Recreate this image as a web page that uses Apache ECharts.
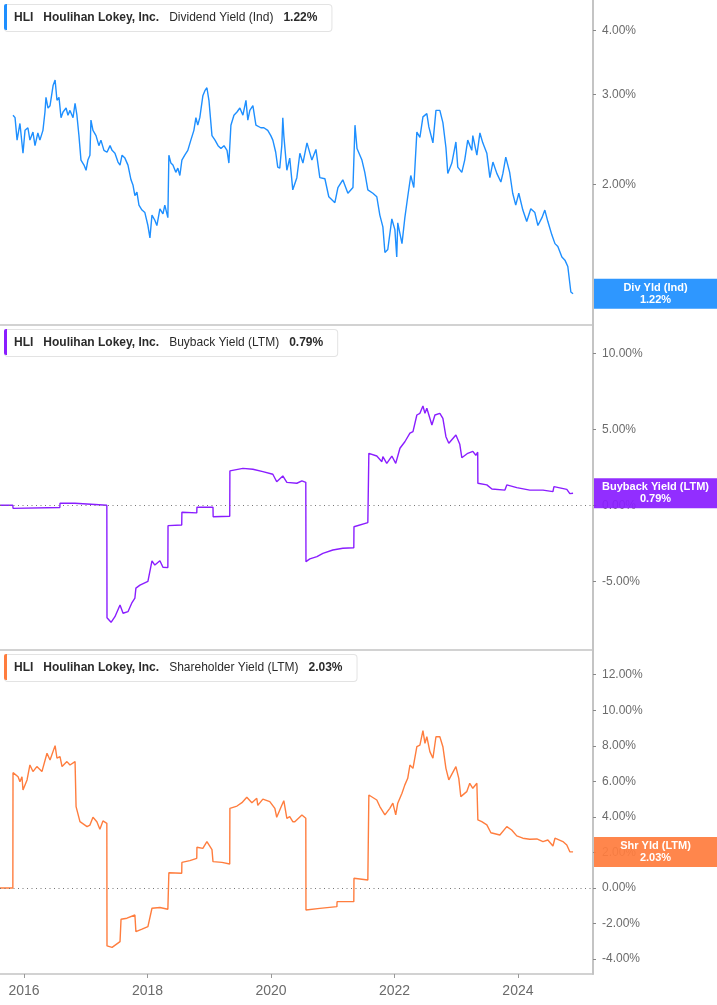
<!DOCTYPE html>
<html><head><meta charset="utf-8">
<script src="https://cdn.jsdelivr.net/npm/echarts@6/dist/echarts.min.js"></script>
<style>html,body{margin:0;padding:0;background:#fff}#c{width:717px;height:1005px}</style>
</head><body><div id="c"></div><script>
// ---------- DATA (values in %) ----------
const divYield = [
['2015-10-28',2.73],['2015-11-09',2.70],['2015-11-21',2.44],['2015-12-08',2.63],['2015-12-26',2.30],['2016-01-07',2.55],['2016-01-24',2.58],['2016-02-05',2.44],['2016-02-23',2.53],['2016-03-06',2.38],['2016-03-23',2.52],['2016-04-04',2.44],['2016-04-22',2.55],['2016-05-04',2.77],['2016-05-10',2.96],['2016-05-22',2.82],['2016-06-03',2.85],['2016-06-21',3.12],['2016-07-03',3.20],['2016-07-14',2.92],['2016-07-26',2.96],['2016-08-07',2.70],['2016-08-19',2.77],['2016-09-06',2.82],['2016-09-17',2.73],['2016-09-29',2.79],['2016-10-17',2.70],['2016-10-29',2.88],['2016-11-09',2.73],['2016-11-21',2.49],['2016-12-03',2.23],['2016-12-21',2.18],['2017-01-02',2.13],['2017-01-13',2.23],['2017-01-25',2.28],['2017-01-31',2.67],['2017-02-12',2.55],['2017-03-02',2.49],['2017-03-19',2.38],['2017-03-31',2.44],['2017-04-18',2.33],['2017-05-06',2.31],['2017-05-24',2.38],['2017-06-05',2.33],['2017-06-22',2.30],['2017-07-10',2.21],['2017-07-22',2.18],['2017-08-03',2.28],['2017-08-20',2.25],['2017-09-07',2.18],['2017-09-25',2.04],['2017-10-07',1.99],['2017-10-18',1.90],['2017-10-30',1.93],['2017-11-11',1.82],['2017-11-29',1.78],['2017-12-16',1.76],['2018-01-03',1.66],['2018-01-15',1.57],['2018-01-27',1.74],['2018-02-13',1.70],['2018-02-25',1.66],['2018-03-15',1.79],['2018-04-02',1.75],['2018-04-13',1.82],['2018-05-01',1.72],['2018-05-07',2.28],['2018-05-19',2.20],['2018-05-31',2.18],['2018-06-17',2.11],['2018-06-29',2.15],['2018-07-11',2.08],['2018-07-23',2.23],['2018-08-09',2.28],['2018-08-27',2.33],['2018-09-14',2.44],['2018-10-02',2.55],['2018-10-14',2.70],['2018-10-25',2.61],['2018-11-06',2.70],['2018-11-24',2.98],['2018-12-06',3.05],['2018-12-18',3.09],['2018-12-30',2.92],['2019-01-17',2.49],['2019-02-04',2.44],['2019-02-22',2.38],['2019-03-11',2.35],['2019-03-29',2.38],['2019-04-16',2.33],['2019-04-27',2.20],['2019-05-09',2.61],['2019-05-27',2.73],['2019-06-14',2.77],['2019-07-01',2.82],['2019-07-19',2.73],['2019-08-06',2.92],['2019-08-17',2.67],['2019-08-29',2.79],['2019-09-16',2.85],['2019-10-04',2.61],['2019-10-15',2.59],['2019-11-02',2.58],['2019-11-20',2.58],['2019-12-13',2.55],['2019-12-31',2.49],['2020-01-12',2.44],['2020-01-29',2.31],['2020-02-10',2.16],['2020-02-22',2.15],['2020-03-05',2.38],['2020-03-11',2.70],['2020-03-17',2.49],['2020-04-04',2.13],['2020-04-21',2.25],['2020-05-09',1.95],['2020-06-02',2.06],['2020-06-20',2.30],['2020-07-08',2.20],['2020-08-01',2.41],['2020-08-30',2.23],['2020-09-23',2.34],['2020-10-16',2.06],['2020-11-15',2.05],['2020-12-08',1.89],['2021-01-13',1.84],['2021-01-31',1.97],['2021-03-01',2.04],['2021-03-31',1.92],['2021-04-30',1.97],['2021-05-12',2.61],['2021-05-24',2.35],['2021-06-22',2.23],['2021-07-09',2.11],['2021-07-27',1.95],['2021-08-26',1.92],['2021-09-18',1.89],['2021-10-06',1.74],['2021-10-24',1.65],['2021-11-05',1.47],['2021-11-22',1.49],['2021-12-16',1.71],['2022-01-03',1.63],['2022-01-14',1.44],['2022-01-20',1.68],['2022-02-14',1.53],['2022-03-03',1.72],['2022-03-20',1.89],['2022-04-07',2.08],['2022-04-25',1.97],['2022-05-13',2.53],['2022-05-31',2.47],['2022-06-18',2.71],['2022-07-11',2.75],['2022-07-23',2.59],['2022-08-16',2.41],['2022-09-03',2.79],['2022-09-26',2.79],['2022-10-14',2.64],['2022-11-01',2.36],['2022-11-12',2.10],['2022-12-06',2.20],['2022-12-30',2.42],['2023-01-10',2.16],['2023-02-03',2.11],['2023-02-20',2.23],['2023-03-10',2.44],['2023-04-03',2.33],['2023-04-09',2.49],['2023-05-03',2.28],['2023-05-21',2.52],['2023-06-07',2.41],['2023-07-01',2.30],['2023-07-19',2.06],['2023-08-06',2.21],['2023-08-29',2.10],['2023-09-22',2.02],['2023-10-04',2.10],['2023-10-21',2.26],['2023-11-13',2.11],['2023-12-01',1.92],['2023-12-19',1.82],['2024-01-06',1.92],['2024-01-30',1.78],['2024-02-22',1.69],['2024-03-17',1.79],['2024-04-10',1.76],['2024-04-28',1.66],['2024-05-22',1.72],['2024-06-08',1.78],['2024-06-26',1.69],['2024-07-20',1.59],['2024-08-07',1.53],['2024-08-24',1.51],['2024-09-17',1.44],['2024-10-05',1.42],['2024-10-22',1.38],['2024-11-09',1.23],['2024-11-22',1.22]
];
const buybackYield = [
['2015-08-12',0.0],['2015-10-27',0.0],['2015-10-28',-0.2],['2016-07-31',-0.15],['2016-08-01',0.13],['2016-10-28',0.13],['2016-10-29',0.0],['2017-05-05',0.0],['2017-05-06',-7.4],['2017-05-30',-7.7],['2017-06-22',-7.33],['2017-07-22',-6.56],['2017-08-09',-7.1],['2017-09-07',-7.0],['2017-10-01',-6.4],['2017-10-18',-6.1],['2017-10-24',-5.45],['2017-11-17',-5.25],['2018-01-03',-5.0],['2018-01-27',-3.65],['2018-02-13',-3.93],['2018-03-15',-3.65],['2018-04-02',-4.08],['2018-05-01',-4.1],['2018-05-02',-1.34],['2018-07-22',-1.3],['2018-07-23',-0.46],['2018-10-19',-0.5],['2018-10-20',-0.13],['2019-01-23',-0.13],['2019-01-24',-0.75],['2019-05-02',-0.72],['2019-05-03',2.26],['2019-07-19',2.43],['2019-09-16',2.37],['2019-11-14',2.21],['2020-01-12',2.04],['2020-02-04',1.55],['2020-03-11',1.93],['2020-04-04',1.51],['2020-06-02',1.45],['2020-07-02',1.6],['2020-07-25',1.51],['2020-07-26',-3.71],['2020-08-18',-3.53],['2020-09-29',-3.38],['2020-11-03',-3.16],['2021-01-01',-2.94],['2021-03-01',-2.83],['2021-05-05',-2.79],['2021-05-06',-1.41],['2021-07-27',-1.14],['2021-08-02',3.42],['2021-09-18',3.24],['2021-10-18',2.87],['2021-10-24',3.2],['2021-11-16',2.76],['2021-12-16',3.24],['2022-01-08',2.76],['2022-02-02',3.75],['2022-03-03',4.18],['2022-04-02',4.74],['2022-04-20',4.85],['2022-05-13',5.94],['2022-05-31',6.05],['2022-06-18',6.53],['2022-06-30',6.05],['2022-07-11',6.38],['2022-08-10',5.28],['2022-08-28',5.94],['2022-09-26',6.05],['2022-10-14',5.72],['2022-11-01',4.51],['2022-11-18',4.08],['2022-12-30',4.62],['2023-01-22',4.01],['2023-02-03',3.13],['2023-03-10',3.42],['2023-04-09',3.55],['2023-04-27',3.29],['2023-05-08',3.49],['2023-05-09',1.45],['2023-07-01',1.34],['2023-07-31',1.07],['2023-10-16',1.0],['2023-10-27',1.34],['2023-12-25',1.16],['2024-03-11',1.0],['2024-05-28',1.0],['2024-07-26',0.9],['2024-08-01',1.23],['2024-10-16',1.05],['2024-11-03',0.77],['2024-11-22',0.79]
];
const shareholderYield = [
['2015-08-12',0.0],['2015-10-27',0.0],['2015-10-28',6.49],['2015-11-27',6.26],['2015-12-08',5.98],['2015-12-20',6.26],['2015-12-26',5.51],['2016-01-19',6.08],['2016-02-05',6.92],['2016-02-23',6.55],['2016-03-17',6.83],['2016-04-16',6.55],['2016-05-16',7.58],['2016-06-03',7.2],['2016-07-03',8.01],['2016-07-14',7.3],['2016-08-01',7.39],['2016-08-13',6.83],['2016-09-11',7.11],['2016-09-29',6.92],['2016-10-29',7.11],['2016-11-04',4.58],['2016-11-27',3.73],['2017-01-08',3.45],['2017-01-25',3.54],['2017-02-12',3.98],['2017-03-07',3.73],['2017-03-25',3.30],['2017-04-12',3.77],['2017-05-05',3.64],['2017-05-06',-3.26],['2017-06-05',-3.34],['2017-07-22',-3.02],['2017-07-28',-1.76],['2017-09-01',-1.7],['2017-10-18',-1.52],['2017-10-24',-2.46],['2017-11-29',-2.32],['2018-01-03',-2.18],['2018-01-27',-1.14],['2018-03-15',-1.1],['2018-05-01',-1.2],['2018-05-07',0.86],['2018-07-22',0.83],['2018-07-23',1.44],['2018-09-08',1.54],['2018-10-19',1.67],['2018-10-20',2.29],['2018-11-24',2.23],['2018-12-18',2.61],['2019-01-17',2.16],['2019-01-23',1.48],['2019-03-17',1.44],['2019-05-02',1.35],['2019-05-03',4.48],['2019-06-14',4.61],['2019-07-13',4.8],['2019-08-11',5.1],['2019-09-10',4.8],['2019-10-09',5.05],['2019-10-15',4.65],['2019-11-14',5.0],['2019-12-25',4.86],['2020-01-24',4.48],['2020-02-04',3.98],['2020-03-05',4.65],['2020-03-17',4.91],['2020-04-04',3.92],['2020-04-21',4.01],['2020-05-09',3.73],['2020-05-21',3.73],['2020-07-02',4.11],['2020-07-25',3.92],['2020-07-26',-1.24],['2020-10-16',-1.15],['2021-01-25',-1.05],['2021-01-26',-0.77],['2021-05-05',-0.77],['2021-05-06',0.55],['2021-07-27',0.45],['2021-08-02',5.23],['2021-09-18',4.95],['2021-10-06',4.58],['2021-11-05',4.11],['2021-12-04',4.48],['2021-12-22',4.77],['2022-01-08',4.11],['2022-01-20',4.77],['2022-02-14',5.33],['2022-03-03',5.8],['2022-03-20',6.17],['2022-04-02',6.92],['2022-04-20',6.73],['2022-05-13',7.95],['2022-05-31',8.04],['2022-06-18',8.85],['2022-06-30',8.14],['2022-07-11',8.51],['2022-07-29',7.67],['2022-08-16',7.30],['2022-09-03',8.51],['2022-09-26',8.51],['2022-10-14',7.95],['2022-11-01',6.73],['2022-11-18',6.08],['2022-12-30',6.83],['2023-01-16',6.17],['2023-01-28',5.14],['2023-03-04',5.42],['2023-03-22',5.89],['2023-04-09',5.61],['2023-05-03',5.89],['2023-05-09',3.83],['2023-06-01',3.73],['2023-07-01',3.55],['2023-07-25',3.11],['2023-09-16',2.98],['2023-10-27',3.45],['2023-11-25',3.26],['2023-12-25',2.93],['2024-01-30',2.80],['2024-03-11',2.74],['2024-04-22',2.76],['2024-05-28',2.61],['2024-06-26',2.7],['2024-07-26',2.36],['2024-08-07',2.80],['2024-09-23',2.61],['2024-10-16',2.42],['2024-11-03',2.04],['2024-11-22',2.03]
];
const yearTicks = [2016, 2018, 2020, 2022, 2024];
const divTicks = [2, 3, 4];
const buybackTicks = [-5, 0, 5, 10];
const shareholderTicks = [-4, -2, 0, 2, 4, 6, 8, 10, 12];
const ticker = 'HLI';
const company = 'Houlihan Lokey, Inc.';
const metricNames = ['Dividend Yield (Ind)', 'Buyback Yield (LTM)', 'Shareholder Yield (LTM)'];
const shortNames = ['Div Yld (Ind)', 'Buyback Yield (LTM)', 'Shr Yld (LTM)'];

// ---------- STYLE / LAYOUT ----------
const FONT = 'Liberation Sans, Arial, sans-serif';
const colors = ['#1E8FFF', '#8A1EFF', '#FF7D3E'];
const seriesData = [divYield, buybackYield, shareholderYield];
const tickSets = [divTicks, buybackTicks, shareholderTicks];
const yRanges = [[1.06, 4.59], [-9.52, 11.86], [-4.84, 13.39]];
const gridTops = [0, 325, 650];
const gridHeights = [325, 325, 324];
const RIGHT = 124;
const xMin = new Date(2015, 7, 12).getTime();
const xMax = new Date(2025, 2, 20).getTime();
const yearStamps = yearTicks.map(y => new Date(y, 0, 1).getTime());
const axisGray = '#c4c4c4';
const labelGray = '#6b6b6b';
const pct = v => Number(v).toFixed(2) + '%';

const grids = [], xAxes = [], yAxes = [], series = [];
for (let i = 0; i < 3; i++) {
  grids.push({left: 0, right: RIGHT, top: gridTops[i], height: gridHeights[i], containLabel: false});
  xAxes.push({
    type: 'time', gridIndex: i, min: xMin, max: xMax,
    axisLine: {show: true, onZero: false, lineStyle: {color: axisGray, width: 1.5}},
    axisTick: {show: false}, axisLabel: {show: false}, splitLine: {show: false}
  });
  yAxes.push({
    type: i === 0 ? 'log' : 'value', logBase: 10, gridIndex: i, position: 'right',
    min: yRanges[i][0], max: yRanges[i][1],
    axisLine: {show: true, onZero: false, lineStyle: {color: axisGray, width: 2}},
    axisTick: {show: true, length: 3, lineStyle: {color: '#888'}, customValues: tickSets[i]},
    axisLabel: {show: true, customValues: tickSets[i], color: labelGray, fontSize: 12, fontFamily: FONT, margin: 9,
      formatter: v => pct(v)},
    splitLine: {show: false}
  });
  const s = {
    type: 'line', xAxisIndex: i, yAxisIndex: i, data: seriesData[i], showSymbol: false, symbol: 'none',
    lineStyle: {color: colors[i], width: 1.4}, itemStyle: {color: colors[i]}, silent: true, z: 3
  };
  if (i > 0) {
    s.markLine = {silent: true, symbol: 'none', label: {show: false}, animation: false,
      lineStyle: {color: '#777', type: [1, 3.5], width: 1}, data: [{yAxis: 0}]};
  }
  series.push(s);
}
// year labels for the shared time scale of the bottom panel (same extent as its time axis)
xAxes.push({
  type: 'value', gridIndex: 2, position: 'bottom', min: xMin, max: xMax,
  axisLine: {show: false, onZero: false},
  axisTick: {show: true, length: 4, lineStyle: {color: '#999'}, customValues: yearStamps},
  axisLabel: {show: true, customValues: yearStamps, color: labelGray, fontSize: 14, fontFamily: FONT, margin: 10,
    formatter: v => String(new Date(v).getFullYear())},
  splitLine: {show: false}
});

const chart = echarts.init(document.getElementById('c'), null, {renderer: 'canvas'});
chart.setOption({animation: false, backgroundColor: '#fff', grid: grids, xAxis: xAxes, yAxis: yAxes, series: series});

// ---------- legends and value boxes ----------
const graphics = [];
const gridRightX = 717 - RIGHT;
for (let i = 0; i < 3; i++) {
  const last = seriesData[i][seriesData[i].length - 1][1];
  const top = gridTops[i] + 4;
  graphics.push({
    type: 'text', left: 4, top: top, z: 20,
    style: {
      text: '{b|' + ticker + '}   {b|' + company + '}   {n|' + metricNames[i] + '}   {b|' + pct(last) + '}',
      rich: {
        b: {fontFamily: FONT, fontSize: 12, fontWeight: 'bold', fill: '#2b2b2b'},
        n: {fontFamily: FONT, fontSize: 12, fontWeight: 'normal', fill: '#2b2b2b'}
      },
      padding: [7, 14, 7, 9], backgroundColor: '#fff', borderColor: '#e3e3e3', borderWidth: 1, borderRadius: 3
    }
  });
  graphics.push({type: 'rect', z: 21, shape: {x: 4, y: top, width: 3, height: 26, r: [2, 0, 0, 2]}, style: {fill: colors[i]}});
  const py = chart.convertToPixel({yAxisIndex: i}, last);
  graphics.push({type: 'rect', z: 22, shape: {x: gridRightX + 1, y: py - 15, width: 717 - gridRightX - 1, height: 30},
    style: {fill: colors[i], opacity: 0.93}});
  graphics.push({type: 'text', z: 23, x: gridRightX + 1 + (717 - gridRightX - 1) / 2, y: py,
    style: {text: shortNames[i] + '\n' + pct(last), fill: '#fff', fontFamily: FONT, fontSize: 11, fontWeight: 'bold',
      lineHeight: 12, align: 'center', verticalAlign: 'middle'}});
}
chart.setOption({graphic: graphics});
</script></body></html>
